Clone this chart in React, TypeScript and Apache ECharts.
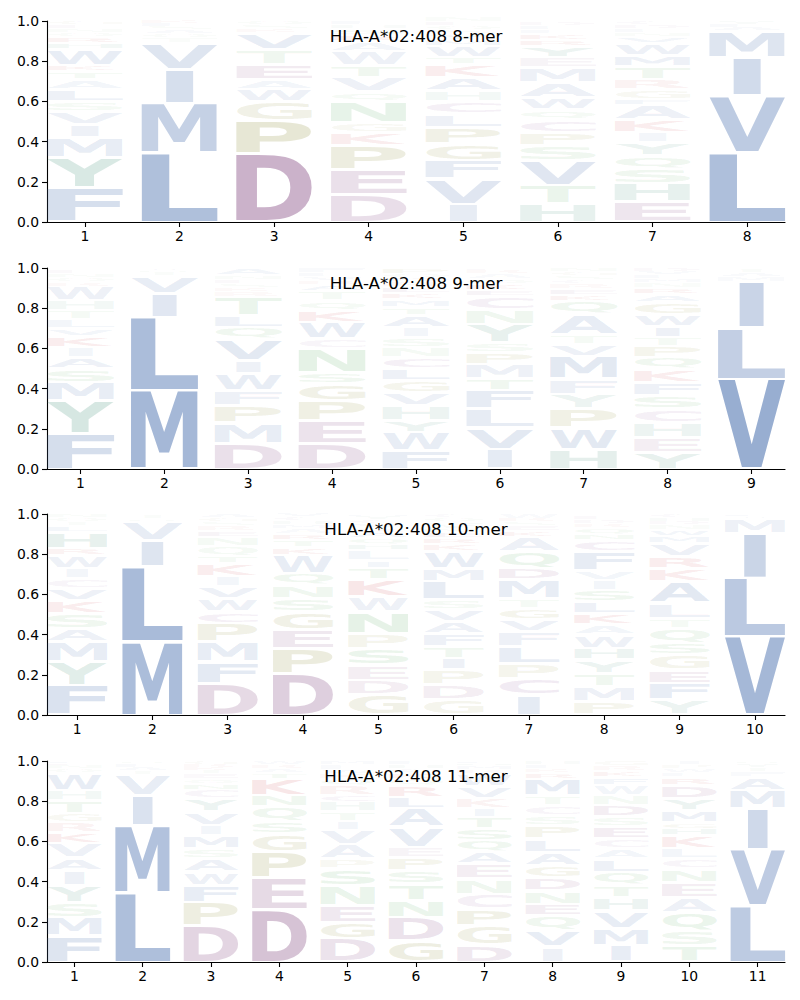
import React, { useEffect, useRef } from "react";
import * as echarts from "echarts";

const ALLELE = "HLA-A*02:408";
const LENGTHS = [8, 9, 10, 11];

// Letter stacks per position, bottom -> top, "letter:frequency"
const mer8: string[] = [
  "F:.17 Y:.15 M:.10 I:.065 V:.065 S:.05 L:.06 A:.05 T:.04 K:.03 W:.08 H:.03 R:.03 Q:.02 N:.02 E:.02 G:.02",
  "L:.344 M:.246 I:.17 V:.133 T:.024 Q:.02 A:.02 S:.015 F:.015 K:.013",
  "D:.339 P:.165 G:.094 W:.063 A:.05 E:.074 T:.075 V:.08 K:.02 S:.02 Q:.02",
  "D:.136 E:.124 P:.12 K:.066 G:.05 N:.104 Q:.05 V:.07 T:.06 W:.07 A:.05 R:.03 S:.03 H:.02 F:.02",
  "I:.09 V:.125 F:.091 G:.082 P:.082 L:.067 C:.063 H:.053 A:.067 K:.065 T:.033 W:.058 M:.03 Y:.03 S:.02 Q:.02 E:.02 N:.024",
  "H:.09 T:.09 V:.126 S:.074 P:.066 C:.064 Q:.05 W:.06 A:.075 M:.075 E:.05 Y:.056 R:.03 K:.03 F:.02 L:.02 D:.014 G:.01",
  "E:.10 H:.09 S:.075 Q:.065 Y:.067 I:.05 K:.064 A:.07 F:.03 G:.05 R:.05 T:.065 M:.055 W:.06 V:.03 N:.02 L:.019 D:.02 C:.02",
  "L:.347 V:.281 I:.19 M:.132 A:.02 F:.015 Y:.015",
];

const mer9: string[] = [
  "F:.177 Y:.163 M:.09 S:.07 A:.055 I:.05 K:.055 V:.04 L:.045 T:.042 H:.05 W:.073 R:.02 Q:.02 N:.02 E:.02 G:.01",
  "M:.39 L:.365 I:.119 V:.088 T:.015 Q:.012 A:.011",
  "D:.128 M:.10 P:.088 F:.075 W:.083 I:.067 V:.107 Q:.058 L:.057 T:.092 R:.026 K:.02 S:.02 E:.02 N:.015 G:.01 A:.034",
  "D:.128 E:.112 P:.10 G:.083 S:.057 N:.117 C:.05 W:.083 K:.058 Q:.049 T:.05 A:.03 R:.02 V:.02 L:.02 F:.023",
  "F:.09 W:.093 Y:.057 H:.075 V:.065 G:.06 L:.06 C:.055 N:.05 S:.05 I:.05 A:.06 T:.04 M:.04 K:.03 E:.03 R:.025 D:.02 Q:.02 P:.03",
  "I:.10 V:.107 L:.093 F:.09 T:.058 M:.072 P:.06 S:.05 Y:.09 N:.075 C:.065 E:.03 K:.03 Q:.025 A:.025 R:.02 D:.01",
  "H:.10 W:.107 P:.093 Y:.073 F:.075 M:.112 V:.06 T:.05 A:.10 Q:.067 K:.03 E:.03 R:.025 C:.02 S:.02 G:.02 N:.018",
  "Y:.083 E:.075 H:.074 C:.066 S:.067 F:.065 K:.067 Q:.058 P:.058 T:.042 I:.055 W:.06 G:.06 A:.04 R:.03 N:.025 M:.02 L:.02 V:.02 D:.015",
  "V:.448 L:.257 I:.229 M:.025 A:.02 T:.021",
];

const mer10: string[] = [
  "F:.149 Y:.116 M:.10 A:.066 S:.075 K:.066 V:.058 C:.05 I:.05 W:.066 R:.034 H:.08 L:.03 T:.02 Q:.02 N:.02",
  "M:.365 L:.373 I:.133 V:.091 Q:.015 T:.013 A:.01",
  "D:.158 F:.107 M:.10 P:.091 C:.058 W:.066 V:.058 I:.05 K:.067 T:.035 Q:.05 N:.045 E:.03 R:.025 S:.02 G:.02 A:.02",
  "D:.207 P:.125 E:.091 G:.091 S:.066 N:.067 Q:.058 W:.091 K:.04 T:.035 R:.03 A:.025 M:.02 H:.02 C:.02 V:.014",
  "G:.10 D:.074 E:.075 S:.083 P:.074 N:.108 W:.075 K:.083 T:.058 I:.04 L:.05 H:.03 Q:.03 A:.03 R:.02 V:.02 C:.02 Y:.02 M:.01",
  "G:.075 D:.074 P:.075 I:.058 T:.058 F:.066 A:.058 V:.058 S:.05 L:.091 M:.067 W:.083 K:.037 R:.03 E:.03 N:.02 Y:.02 H:.01 Q:.02 C:.02",
  "I:.10 C:.082 P:.075 L:.083 F:.075 V:.058 G:.057 T:.05 M:.092 D:.058 Q:.083 A:.074 K:.03 E:.025 S:.02 R:.015 W:.023",
  "P:.066 M:.075 T:.066 Y:.067 H:.058 W:.068 A:.05 K:.056 L:.058 S:.058 I:.05 V:.048 F:.093 C:.057 N:.03 Q:.03 R:.02 D:.02 E:.02 G:.01",
  "Y:.075 F:.083 E:.066 G:.075 S:.058 Q:.074 T:.05 L:.075 A:.107 K:.067 R:.058 V:.066 M:.036 W:.03 N:.025 D:.02 H:.015 C:.02",
  "V:.39 L:.29 I:.224 M:.074 A:.012 F:.01",
];

const mer11: string[] = [
  "F:.133 M:.089 S:.075 Y:.083 I:.075 A:.063 V:.07 K:.055 R:.054 G:.043 T:.065 H:.05 W:.085 Q:.02 N:.02 E:.01 L:.01",
  "L:.347 M:.333 I:.15 V:.103 T:.02 A:.017 F:.015 Q:.015",
  "D:.18 P:.117 F:.083 W:.067 A:.066 S:.05 M:.067 I:.05 V:.067 Y:.066 C:.042 N:.03 Q:.025 E:.025 T:.02 K:.015 R:.015 G:.015",
  "D:.263 E:.157 P:.13 G:.088 S:.059 Q:.075 N:.058 K:.083 T:.03 A:.02 R:.02 W:.017",
  "D:.117 G:.08 E:.083 N:.10 S:.083 P:.05 A:.072 V:.07 I:.042 T:.05 H:.05 C:.033 R:.05 Q:.03 K:.025 W:.02 F:.02 L:.01 M:.015",
  "G:.105 D:.117 N:.083 T:.083 S:.067 P:.067 E:.05 V:.10 A:.091 L:.057 R:.06 Q:.03 K:.03 C:.02 H:.02 F:.02",
  "D:.088 G:.092 P:.083 C:.075 N:.075 E:.075 A:.059 Q:.058 S:.058 T:.059 I:.041 K:.05 V:.059 W:.066 R:.02 M:.02 H:.012 L:.01",
  "I:.075 V:.08 Q:.075 E:.058 N:.067 D:.067 G:.058 A:.067 L:.066 P:.067 S:.05 C:.05 T:.05 M:.083 R:.03 K:.02 F:.017 H:.02",
  "I:.083 M:.084 V:.088 H:.067 T:.058 Q:.067 L:.066 A:.05 C:.05 E:.059 S:.05 D:.058 N:.05 W:.05 F:.04 K:.03 R:.025 G:.025",
  "T:.08 S:.075 Q:.092 A:.075 E:.075 N:.066 C:.05 L:.05 K:.067 H:.033 G:.03 M:.062 Y:.058 D:.067 R:.04 F:.02 W:.02 P:.02 I:.02",
  "L:.283 V:.28 I:.20 M:.092 A:.067 F:.025 T:.02 Y:.018 Q:.015",
];

const PANELS = [mer8, mer9, mer10, mer11];
const Y_TICKS = [0, 0.2, 0.4, 0.6, 0.8, 1.0];

const LETTERS = "ACDEFGHIKLMNPQRSTVWY";
const LETTER_GROUP: Record<string, string> = {
  A: "hyd", F: "hyd", I: "hyd", L: "hyd", M: "hyd", V: "hyd", W: "hyd",
  Y: "aro", H: "aro",
  S: "pol", T: "pol", N: "pol", Q: "pol",
  D: "acid", E: "acid",
  C: "cys",
  P: "gp", G: "gp",
  K: "bas", R: "bas",
};
const GROUP_RGB: Record<string, number[]> = {
  hyd: [78, 115, 176],
  aro: [73, 148, 126],
  pol: [95, 175, 105],
  acid: [138, 82, 136],
  cys: [150, 100, 165],
  gp: [150, 150, 70],
  bas: [205, 70, 75],
};

const FONT = "DejaVu Sans";
const GRID_LEFT = 47;
const GRID_WIDTH = 738;
const GRID_TOPS = [21, 268, 514, 761];
const GRID_HEIGHT = 201;

type Metric = { l: number; r: number; a: number; d: number };

function measureLetters(): Record<string, Metric> {
  const ctx = document.createElement("canvas").getContext("2d")!;
  ctx.font = `bold 100px "${FONT}"`;
  ctx.textAlign = "center";
  ctx.textBaseline = "alphabetic";
  const out: Record<string, Metric> = {};
  for (const ch of LETTERS) {
    const t = ctx.measureText(ch);
    out[ch] = {
      l: t.actualBoundingBoxLeft,
      r: t.actualBoundingBoxRight,
      a: t.actualBoundingBoxAscent,
      d: t.actualBoundingBoxDescent,
    };
  }
  return out;
}

// distance (in px at 100px font) from the SVG "central" baseline down to the alphabetic baseline
function measureCentralOffset(): number {
  const NS = "http://www.w3.org/2000/svg";
  const svg = document.createElementNS(NS, "svg");
  svg.setAttribute("width", "300");
  svg.setAttribute("height", "300");
  svg.style.position = "absolute";
  svg.style.left = "-9999px";
  svg.style.top = "0";
  document.body.appendChild(svg);
  const mk = (db: string | null) => {
    const t = document.createElementNS(NS, "text");
    t.setAttribute("x", "0");
    t.setAttribute("y", "0");
    if (db) t.setAttribute("dominant-baseline", db);
    t.setAttribute("style", `font: bold 100px "${FONT}"`);
    t.textContent = "H";
    svg.appendChild(t);
    return t.getBBox().y;
  };
  const yc = mk("central");
  const ya = mk(null);
  document.body.removeChild(svg);
  const off = yc - ya;
  return isFinite(off) ? off : 34.6;
}

function parseStack(s: string): [string, number][] {
  return s
    .trim()
    .split(/\s+/)
    .map((tok) => {
      const [l, v] = tok.split(":");
      return [l, parseFloat(v)] as [string, number];
    });
}

function colorFor(letter: string, f: number): string {
  const rgb = GROUP_RGB[LETTER_GROUP[letter]];
  const a = Math.min(1, 0.02 + 1.25 * f);
  return `rgba(${rgb[0]},${rgb[1]},${rgb[2]},${a.toFixed(3)})`;
}

export default function App() {
  const ref = useRef<HTMLDivElement>(null);

  useEffect(() => {
    if (!ref.current) return;
    const chart = echarts.init(ref.current, null, { renderer: "svg" });
    const metrics = measureLetters();
    const centralOff = measureCentralOffset();

    const grids: any[] = [];
    const xAxes: any[] = [];
    const yAxes: any[] = [];
    const series: any[] = [];
    const graphics: any[] = [];

    PANELS.forEach((panel, k) => {
      const n = LENGTHS[k];
      const positions = Array.from({ length: n }, (_, i) => i + 1);
      grids.push({
        left: GRID_LEFT,
        top: GRID_TOPS[k],
        width: GRID_WIDTH,
        height: GRID_HEIGHT,
        containLabel: false,
      });
      xAxes.push({
        gridIndex: k,
        type: "value",
        min: 0.6,
        max: n + 0.4,
        axisLine: { show: true, lineStyle: { color: "#000", width: 1.1 } },
        axisTick: {
          show: true,
          customValues: positions,
          length: 5,
          lineStyle: { color: "#000", width: 1.1 },
        },
        axisLabel: {
          customValues: positions,
          color: "#000",
          fontSize: 13.9,
          fontFamily: FONT,
          margin: 7,
          formatter: (v: number) => String(Math.round(v)),
        },
        splitLine: { show: false },
      });
      yAxes.push({
        gridIndex: k,
        type: "value",
        min: 0,
        max: 1,
        interval: 0.2,
        axisLine: { show: true, lineStyle: { color: "#000", width: 1.1 } },
        axisTick: {
          show: true,
          length: 5,
          customValues: Y_TICKS,
          lineStyle: { color: "#000", width: 1.1 },
        },
        axisLabel: {
          customValues: Y_TICKS,
          color: "#000",
          fontSize: 13.9,
          fontFamily: FONT,
          margin: 8,
          formatter: (v: number) => v.toFixed(1),
        },
        splitLine: { show: false },
      });

      const data: any[] = [];
      panel.forEach((stackStr, i) => {
        let cum = 0;
        for (const [letter, f] of parseStack(stackStr)) {
          data.push({ value: [i + 1, cum, cum + f, LETTERS.indexOf(letter), f] });
          cum += f;
        }
      });

      series.push({
        type: "custom",
        xAxisIndex: k,
        yAxisIndex: k,
        silent: true,
        encode: { x: 0, y: [1, 2] },
        data,
        renderItem: (_params: any, api: any) => {
          const pos = api.value(0);
          const y0 = api.value(1);
          const y1 = api.value(2);
          const letter = LETTERS[api.value(3)];
          const f = api.value(4);
          const p0 = api.coord([pos - 0.4, y0]);
          const p1 = api.coord([pos + 0.4, y1]);
          let left = p0[0];
          let right = p1[0];
          let bottom = p0[1];
          let top = p1[1];
          const h = bottom - top;
          const gap = Math.min(1.5, h * 0.15);
          top += gap;
          bottom -= gap;
          if (letter === "I") {
            const c = (left + right) / 2;
            const w = (right - left) * 0.36;
            left = c - w / 2;
            right = c + w / 2;
          }
          const m = metrics[letter];
          const sx = (right - left) / (m.l + m.r);
          const sy = Math.max(0.0001, bottom - top) / (m.a + m.d);
          const baseline = top + m.a * sy;
          return {
            type: "text",
            x: left + m.l * sx,
            y: baseline - centralOff * sy,
            scaleX: sx,
            scaleY: sy,
            style: {
              text: letter,
              fontSize: 100,
              fontFamily: FONT,
              fontWeight: "bold",
              fill: colorFor(letter, f),
              align: "center",
              verticalAlign: "middle",
            },
          };
        },
      });

      graphics.push({
        type: "text",
        x: GRID_LEFT + GRID_WIDTH / 2,
        y: GRID_TOPS[k] + 15,
        z: 100,
        style: {
          text: `${ALLELE} ${n}-mer`,
          fontSize: 16.7,
          fontFamily: FONT,
          fill: "#000",
          align: "center",
          verticalAlign: "middle",
        },
      });
    });

    chart.setOption({
      animation: false,
      backgroundColor: "#fff",
      grid: grids,
      xAxis: xAxes,
      yAxis: yAxes,
      series,
      graphic: graphics,
    });

    return () => chart.dispose();
  }, []);

  return (
    <div
      ref={ref}
      style={{ position: "absolute", left: 0, top: 0, width: 800, height: 1000 }}
    />
  );
}
